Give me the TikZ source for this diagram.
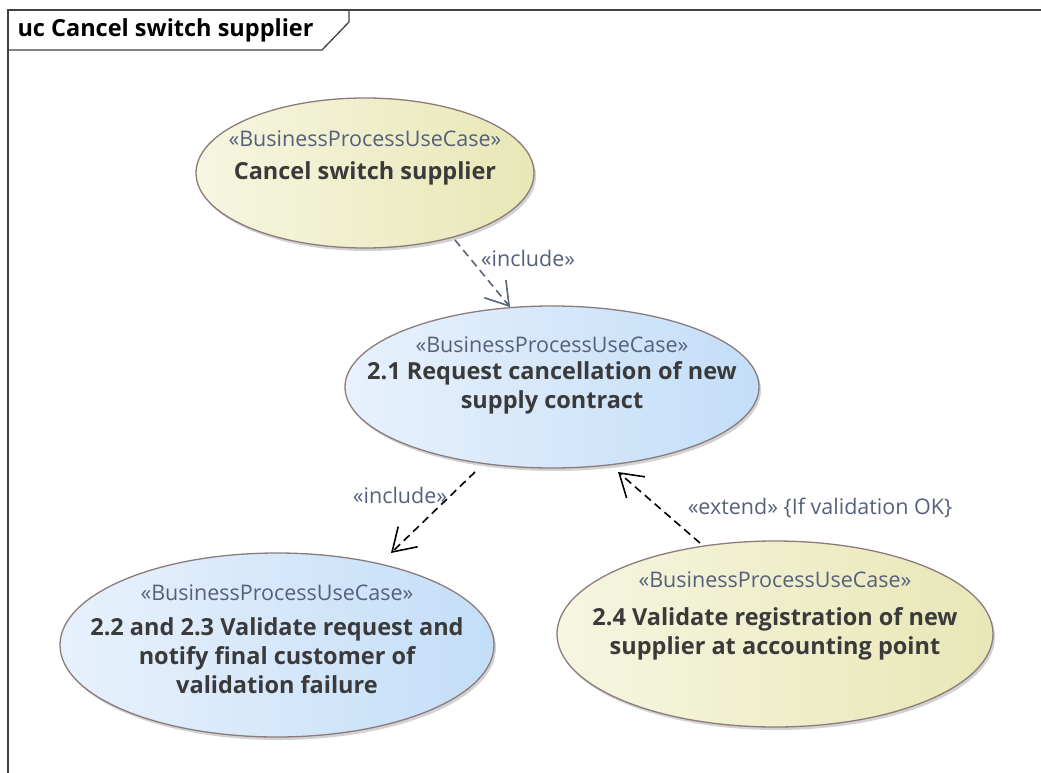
\documentclass[tikz,border=0pt]{standalone}
\usepackage{fontspec}
\setmainfont{Open Sans}
\usetikzlibrary{arrows.meta,shadows}
\definecolor{ucborder}{HTML}{8C7B7B}
\definecolor{uctext}{HTML}{3A3A3A}
\definecolor{ucster}{HTML}{56607A}
\definecolor{ylL}{HTML}{F6F6E2}
\definecolor{ylR}{HTML}{E8E7B6}
\definecolor{blL}{HTML}{E8F1FC}
\definecolor{blR}{HTML}{C3DEF8}
\definecolor{linkblue}{HTML}{5A6478}
\tikzset{
  uc/.style={draw=ucborder, line width=1.3pt, drop shadow={shadow xshift=2pt, shadow yshift=-3pt, fill=black!35, opacity=0.5}},
  ucyellow/.style={uc, left color=ylL, right color=ylR},
  ucblue/.style={uc, left color=blL, right color=blR},
  ster/.style={font=\fontsize{21.5}{24}\selectfont, text=ucster},
  ucname/.style={font=\bfseries\fontsize{23.5}{29}\selectfont, text=uctext, align=center},
  lbl/.style={font=\fontsize{21.5}{24}\selectfont, text=ucster},
  dep/.style={dashed, dash pattern=on 8pt off 5pt, line width=1.6pt, -{Straight Barb[length=22pt,width=28pt,line width=1.6pt]}},
}
\begin{document}
\begin{tikzpicture}[x=1pt,y=-1pt]
\useasboundingbox (0,0) rectangle (1041,773);
% frame
\draw[line width=1.3pt, draw=black!75] (1041,10) -- (8,10) -- (8,773);
\draw[line width=1.3pt, draw=black!75] (8,50) -- (322,50) -- (349,22) -- (349,10);
\node[anchor=west, font=\bfseries\fontsize{23.5}{26}\selectfont, text=black] (title) at (14,30) {uc Cancel switch supplier};
% use cases
\path[ucyellow] (365,173) ellipse [x radius=169, y radius=75];
\node[ster] (s1) at (365,139) {«BusinessProcessUseCase»};
\node[ucname] (n1) at (365,173) {Cancel switch supplier};

\path[ucblue] (552,387) ellipse [x radius=207, y radius=81];
\node[ster] (s2) at (552,345) {«BusinessProcessUseCase»};
\node[ucname] (n2) at (552,388) {2.1 Request cancellation of new\\supply contract};

\path[ucblue] (277,645) ellipse [x radius=217, y radius=92];
\node[ster] (s3) at (277,593) {«BusinessProcessUseCase»};
\node[ucname] (n3) at (277,656) {2.2 and 2.3 Validate request and\\notify final customer of\\validation failure};

\path[ucyellow] (775,634) ellipse [x radius=218, y radius=93];
\node[ster] (s4) at (775,580) {«BusinessProcessUseCase»};
\node[ucname] (n4) at (775,634) {2.4 Validate registration of new\\supplier at accounting point};

% connector endpoints on ellipse borders
\coordinate (a1) at (455,240);
\coordinate (b1) at (510,307);
\coordinate (a2) at (475,472);
\coordinate (b2) at (391,553);
\coordinate (a3) at (700,543);
\coordinate (b3) at (618,472);
\draw[dep, draw=linkblue] (a1) -- (b1);
\draw[dep, draw=black] (a2) -- (b2);
\draw[dep, draw=black] (a3) -- (b3);
\node[lbl] (l1) at (528,258) {«include»};
\node[lbl] (l2) at (400,495) {«include»};
\node[lbl] (l3) at (820,508) {«extend» \{If validation OK\}};
\end{tikzpicture}
\end{document}
